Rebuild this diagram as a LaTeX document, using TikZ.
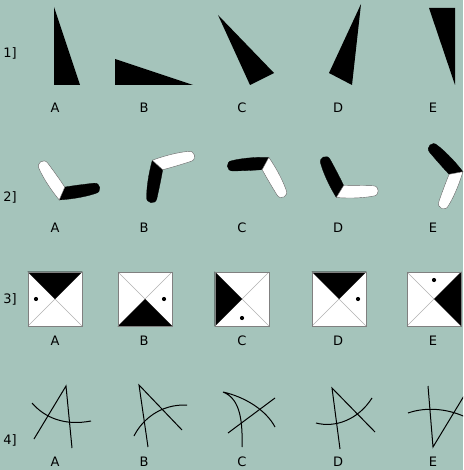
\documentclass[tikz,border=0pt]{standalone}
\usepackage{fontspec}
\setmainfont{DejaVu Sans}
\usetikzlibrary{calc}
\definecolor{sheetbg}{HTML}{A5C4BB}
\definecolor{tileedge}{HTML}{808080}
\newcommand{\armpath}{(237.5:7) .. controls (12,-7.5) and (26,-6.5) .. (33,-5.2)
      .. controls (40,-5.2) and (40,5.2) .. (33,5.2)
      .. controls (24,5.6) and (14,6) .. (57.5:7) -- cycle}

\begin{document}
\begin{tikzpicture}[x=1pt, y=1pt,
  lbl/.style={font=\fontsize{13}{15}\selectfont, inner sep=0pt},
  rowlbl/.style={font=\fontsize{13}{15}\selectfont, inner sep=0pt},
  wedge/.style={fill=black},
  tile/.style={draw=tileedge, fill=white, minimum size=54pt, inner sep=0pt, line width=0.7pt},
  diag/.style={draw=black!30, line width=0.4pt},
  stroke/.style={line width=1pt, black},
  dotmark/.style={circle, fill=black, inner sep=0pt, minimum size=4.2pt},
  boomerang/.pic={
    \filldraw[fill=black, draw=black, line width=0.3pt] \armpath;
    \filldraw[fill=white, draw=black!60, line width=0.4pt, rotate=115, yscale=-1] \armpath;
  }
]
  \path[use as bounding box] (0,0) rectangle (463,-470);
  \clip (0,0) rectangle (463,-470);
  \fill[sheetbg] (0,0) rectangle (463,-470);

  % row labels
  \node[rowlbl] (row1) at (10,-53) {1]};
  \node[rowlbl] (row2) at (10,-197) {2]};
  \node[rowlbl] (row3) at (10,-299) {3]};
  \node[rowlbl] (row4) at (10,-440) {4]};

  % answer letters
  \foreach \r/\y in {1/108, 2/228, 3/341, 4/462}
    \foreach \L/\x in {A/55, B/144, C/242, D/338, E/433}
      \node[lbl] (r\r-\L) at (\x,-\y) {\L};

  % row 1: triangles
  \fill[wedge] (54,-7) -- (54,-85) -- (80,-85) -- cycle;
  \fill[wedge] (115,-59) -- (115,-85) -- (193,-85) -- cycle;
  \fill[wedge] (218,-15) -- (250,-85) -- (274,-73) -- cycle;
  \fill[wedge] (361,-4) -- (352,-85) -- (329,-73) -- cycle;
  \fill[wedge] (429,-8) -- (455,-8) -- (455,-85) -- cycle;

  % row 2: boomerangs
  \pic[rotate=9] at (62,-193.5) {boomerang};
  \pic[rotate=260] at (157.5,-165) {boomerang};
  \pic[rotate=184] at (265.5,-163.5) {boomerang};
  \pic[rotate=116, yscale=-1] at (340,-191.5) {boomerang};
  \pic[rotate=133] at (456,-173) {boomerang};

  % row 3: tiles
  \foreach \L/\x/\ca/\cb/\d in {A/55/north west/north east/180,
      B/145/south east/south west/0, C/242/south west/north west/270,
      D/339/north west/north east/0, E/434/north east/south east/90} {
    \node[tile] (sq-\L) at (\x,-299) {};
    \draw[diag] (sq-\L.north west) -- (sq-\L.south east);
    \draw[diag] (sq-\L.north east) -- (sq-\L.south west);
    \fill[wedge] (sq-\L.center) -- (sq-\L.\ca) -- (sq-\L.\cb) -- cycle;
    \node[tile, fill=none] at (sq-\L) {};
    \node[dotmark] (dot-\L) at ($(sq-\L.center)+(\d:19)$) {};
  }

  % row 4: strokes
  \draw[stroke] (34,-439) -- (66,-386) -- (72,-448);
  \draw[stroke] (32,-403) .. controls (45,-418) and (65,-426) .. (91,-421);

  \draw[stroke] (148,-447) -- (139,-385) -- (182,-430);
  \draw[stroke] (134,-436) .. controls (142,-420) and (160,-404) .. (187,-405);

  \draw[stroke] (275,-427) .. controls (266,-410) and (245,-397) .. (223,-392)
    .. controls (238,-398) and (243,-415) .. (242,-447);
  \draw[stroke] (228,-433) -- (275,-398);

  \draw[stroke] (340,-449) -- (332,-388) -- (375,-432);
  \draw[stroke] (316,-423) .. controls (335,-428) and (358,-420) .. (372,-398);

  \draw[stroke] (428,-386) -- (433,-447) -- (470,-386);
  \draw[stroke] (408,-413) .. controls (425,-407) and (450,-407) .. (475,-422);
\end{tikzpicture}
\end{document}
